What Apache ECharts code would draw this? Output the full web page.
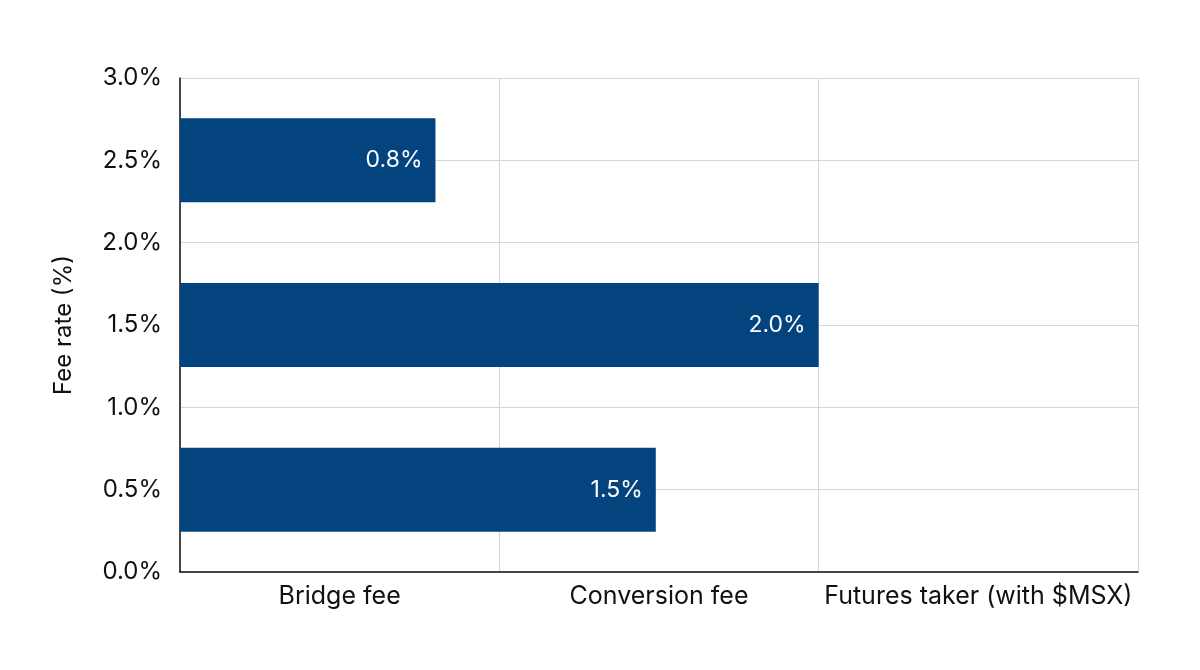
<!DOCTYPE html>
<html>
<head>
<meta charset="utf-8">
<script src="https://cdn.jsdelivr.net/npm/echarts@6/dist/echarts.min.js"></script>
<style>html,body{margin:0;padding:0;background:#fff}#c{width:1200px;height:670px}</style>
</head>
<body>
<div id="c"></div>
<script>
const xCategories = ["Bridge fee", "Conversion fee", "Futures taker (with $MSX)"];
const barRows = ["row1", "row2", "row3"]; // bottom to top
const barValues = [1.49, 2.0, 0.8];       // bottom to top
const yTicks = { min: 0, max: 3, interval: 0.5 };

const chart = echarts.init(document.getElementById('c'));
const font = 'Inter, "Noto Sans", sans-serif';
chart.setOption({
  animation: false,
  grid: { left: 180, right: 62, top: 78, bottom: 98 },
  xAxis: [
    { type: 'value', min: 0, max: 3, interval: 1,
      axisLabel: { show: false }, axisTick: { show: false },
      axisLine: { show: true, lineStyle: { color: '#111', width: 1.5 } },
      splitLine: { show: true, lineStyle: { color: '#d6d6d6', width: 1 } } },
    { type: 'category', data: xCategories, position: 'bottom',
      axisLine: { show: false }, axisTick: { show: false }, splitLine: { show: false },
      axisLabel: { color: '#111', fontSize: 25, fontFamily: font, margin: 12, interval: 0 } }
  ],
  yAxis: [
    { type: 'value', min: yTicks.min, max: yTicks.max, interval: yTicks.interval,
      name: 'Fee rate (%)', nameLocation: 'middle', nameGap: 104,
      nameTextStyle: { color: '#111', fontSize: 24, fontFamily: font },
      axisLabel: { color: '#111', fontSize: 24, fontFamily: font, margin: 18,
        formatter: v => v.toFixed(1) + '%' },
      axisTick: { show: false },
      axisLine: { show: true, lineStyle: { color: '#111', width: 1.5 } },
      splitLine: { show: true, lineStyle: { color: '#d6d6d6', width: 1 } } },
    { type: 'category', data: barRows, show: false }
  ],
  series: [{
    type: 'bar', xAxisIndex: 0, yAxisIndex: 1, data: barValues,
    barWidth: '51%', itemStyle: { color: '#03447f' },
    label: { show: true, position: 'insideRight', distance: 13, color: '#fff',
      fontSize: 23, fontFamily: font, formatter: p => p.value.toFixed(1) + '%' }
  }]
});
</script>
</body>
</html>
